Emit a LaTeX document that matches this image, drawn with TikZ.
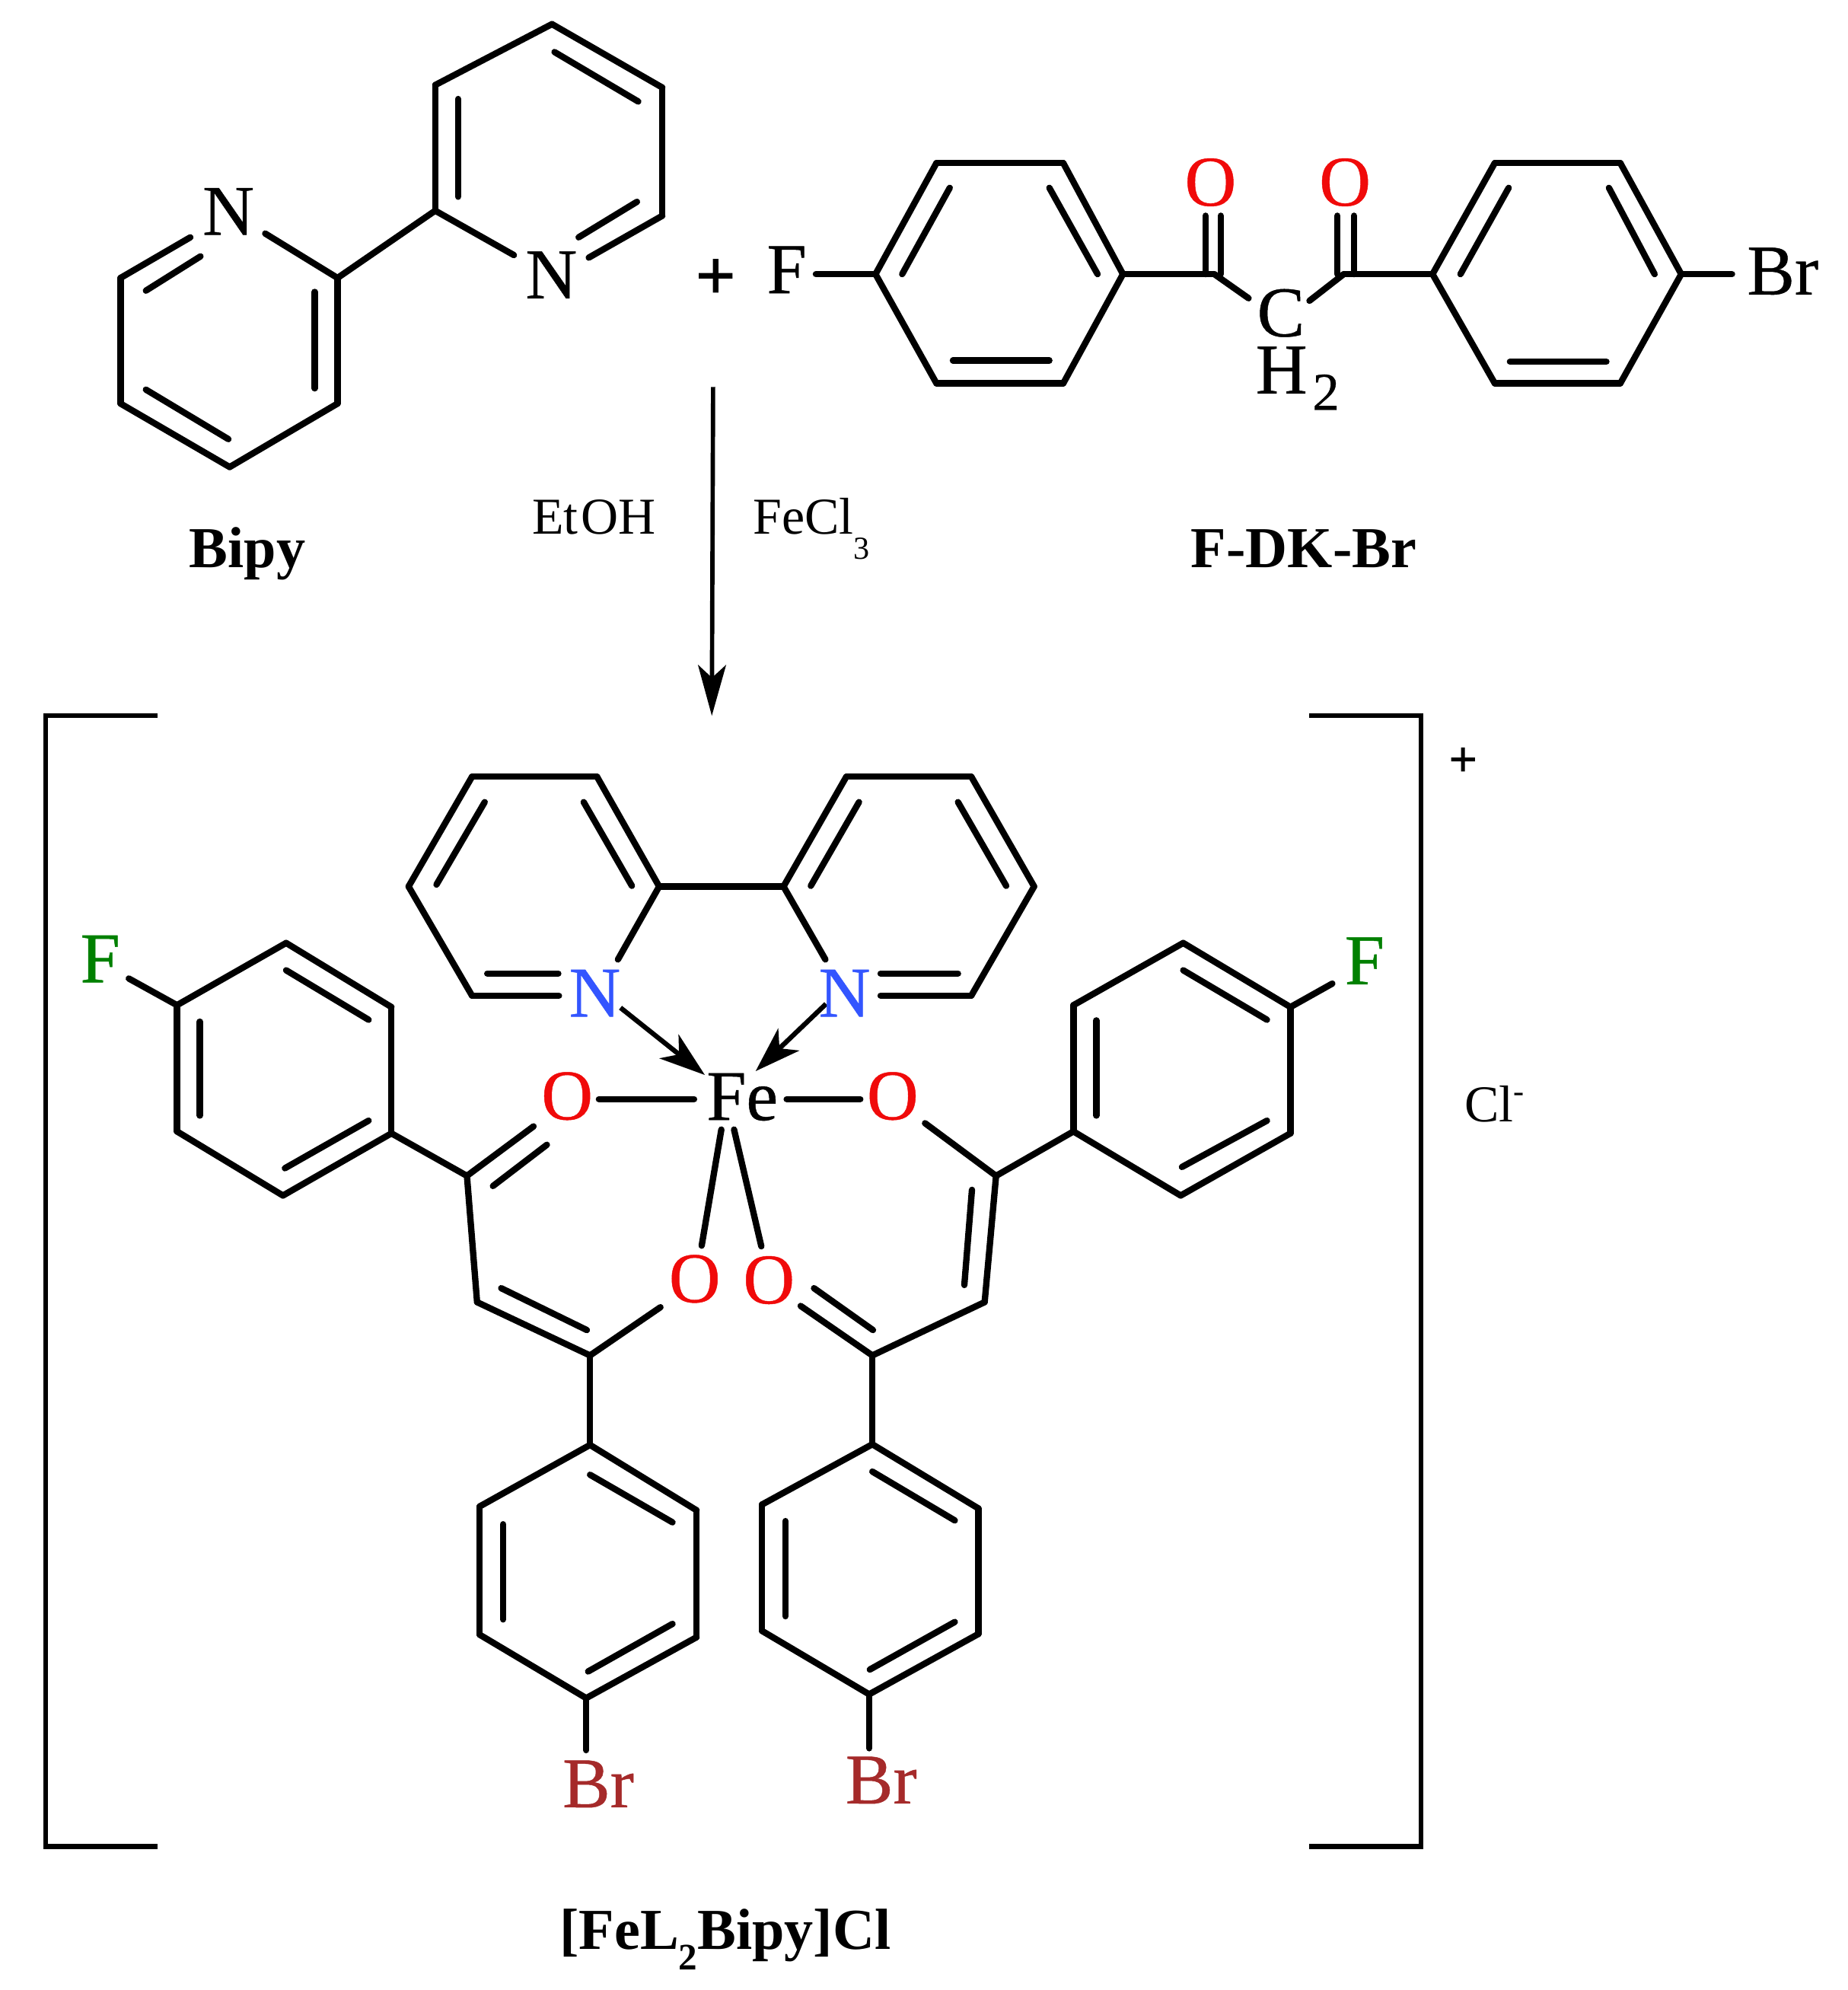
\documentclass[tikz,border=0pt]{standalone}
\usepackage{fontspec}
\setmainfont{Liberation Serif}
\newfontfamily\heavyfont[FakeBold=3]{Liberation Serif}
\newfontfamily\atomfamily[FakeBold=0.5]{Liberation Serif}
\usetikzlibrary{arrows.meta}
\definecolor{oxred}{HTML}{F00A0A}
\definecolor{nblue}{HTML}{3355FF}
\definecolor{fgreen}{HTML}{008000}
\definecolor{brbrown}{HTML}{A52A2A}
\newcommand{\bigfont}{\atomfamily\fontsize{80}{80}\selectfont}
\newcommand{\subfont}{\atomfamily\fontsize{60}{60}\selectfont}
\newcommand{\smallfont}{\fontsize{58}{58}\selectfont}
\newcommand{\lowsub}{\fontsize{36}{36}\selectfont}
\newcommand{\boldfont}{\fontsize{65}{65}\selectfont\bfseries}
\tikzset{
  bond/.style={line width=2.5mm,line cap=round,line join=round,black},
  thinline/.style={line width=1.7mm,black},
  atom/.style={inner sep=0pt,anchor=base,font=\bigfont},
  caption/.style={inner sep=0pt,anchor=base,font=\boldfont},
  note/.style={inner sep=0pt,anchor=base,font=\smallfont},
  head/.style={-{Stealth[length=20mm,width=11mm,inset=5mm]}},
  dative/.style={line width=1.9mm,-{Stealth[length=18mm,width=12mm,inset=5mm]}}
}
\begin{document}
\begin{tikzpicture}[x=0.5mm,y=-0.5mm]
\useasboundingbox (0,0) rectangle (1456,1568);
% all vertices and free bond ends
\foreach \n/\x/\y in {
 % top bipy
 a1/181/368,a2/266/318,a3/266/219,a4/209/184,a5/150/187,a6/95/219,a7/95/318,
 a8/248/230,a9/248/306,a10/115/307,a11/180/346,a12/115/229,a13/158/202,
 b1/343/166,b2/343/67,b3/435/19,b4/522/69,b5/522/170,b6/464/203,b7/405/201,
 b8/361/78,b9/361/155,b10/437/41,b11/503/80,b12/502/159,b13/456/187,
 % F-DK-Br
 c1/690/216,c2/738/128.5,c3/838/128.5,c4/885/216,c5/838/302,c6/738/302,
 c7/711/216,c8/748.5/148,c9/827/148,c10/865/216,c11/751/284,c12/827/284,c13/643/216,
 d1/957/216,d2/984/235,d3/950/170,d4/950/216,d5/962/170,d6/962/216,
 e1/1059/216,e2/1032/237,e3/1054/170,e4/1054/216,e5/1067/170,e6/1067/216,
 f1/1129/216,f2/1178/128.5,f3/1277/128.5,f4/1325/216,f5/1277/302,f6/1178/302,
 f7/1151/216,f8/1189/148,f9/1268/148,f10/1304/216,f11/1190/285,f12/1266/285,f13/1365/216,
 % reaction arrow
 r1/562/305,r2/561/564,
 % brackets
 k1/124/564,k2/36/564,k3/36/1455,k4/124/1455,
 k5/1032/564,k6/1120/564,k7/1120/1455,k8/1032/1455,
 % complex bipy
 g1/322/698.5,g2/372/612,g3/470.5/612,g4/519.5/698.5,g5/487/756,g6/372/784.5,g7/440.5/784.5,
 g8/344/697,g9/382/632,g10/460/632,g11/498/698,g12/384/767,g13/440/767,
 h1/617.5/698.5,h2/667/612,h3/765.5/612,h4/815/698.5,h5/765.5/784.5,h6/694/784.5,h7/650.5/756,
 h8/639/698,h9/677/632,h10/755/632,h11/793/698,h12/694/767,h13/755/767,
 % dative bonds
 t1/489/794,t2/555.5/847,t3/651/791,t4/595.5/844,
 % Fe-O
 u1/472/866,u2/547/866,u3/620/866,u4/678/866,u5/568.5/890,u6/553/981.5,u7/578.5/890,u8/600/982,
 % left ketoenol
 v1/368/926.5,v2/420.5/887.5,v3/388.5/934.5,v4/431/902,v5/376/1026,v6/465/1068,
 v7/395/1015,v8/462.5/1048,v9/520.5/1030,
 % right ketoenol
 w1/785/926.5,w2/729/885,w3/776/1026,w4/766/937.5,w5/760/1012.5,w6/687.5/1068,
 w7/631/1029,w8/688/1048,w9/641.5/1015,
 % left F ring
 p1/139.5/792,p2/225.5/743,p3/308.5/793.5,p4/308.5/893,p5/223/942,p6/139.5/891.5,
 p7/157.5/805,p8/157.5/879,p9/225.5/764.5,p10/290.5/803.5,p11/290.5/883,p12/224.5/920.5,p13/101.5/771,
 % right F ring
 q1/846/792,q2/932.5/743,q3/1017/793.5,q4/1017/893,q5/930.5/942,q6/846/891.5,
 q7/864/804,q8/864/879,q9/932.5/764.5,q10/998.5/803.5,q11/998.5/883,q12/931.5/919.5,q13/1050/775,
 % left Br ring
 m1/465/1138.5,m2/549/1190,m3/549/1290,m4/462/1338,m5/378/1288,m6/378/1187,
 m7/465/1162,m8/530/1199.5,m9/530/1279.5,m10/463.5/1317,m11/396.5/1201,m12/396.5/1276,m13/462/1379,
 % right Br ring
 n1/687.5/1138,n2/771/1188.5,n3/771/1287.5,n4/685/1335,n5/600.5/1285,n6/600.5/1185.5,
 n7/687.5/1159.5,n8/752.5/1198,n9/752.5/1278,n10/685.5/1315.5,n11/619/1198.5,n12/619/1273.5,n13/685/1377.5%
}{\coordinate (\n) at (\x,\y);}
% bonds
\foreach \s/\e in {
 a1/a2,a2/a3,a3/a4,a5/a6,a6/a7,a7/a1,a8/a9,a10/a11,a12/a13,a3/b1,
 b1/b2,b2/b3,b3/b4,b4/b5,b5/b6,b1/b7,b8/b9,b10/b11,b12/b13,
 c1/c2,c2/c3,c3/c4,c4/c5,c5/c6,c6/c1,c7/c8,c9/c10,c11/c12,c13/c1,
 c4/d1,d1/d2,d3/d4,d5/d6,e2/e1,e3/e4,e5/e6,e1/f1,
 f1/f2,f2/f3,f3/f4,f4/f5,f5/f6,f6/f1,f7/f8,f9/f10,f11/f12,f4/f13,
 g1/g2,g2/g3,g3/g4,g4/g5,g1/g6,g6/g7,g8/g9,g10/g11,g12/g13,g4/h1,
 h1/h2,h2/h3,h3/h4,h4/h5,h5/h6,h1/h7,h8/h9,h10/h11,h12/h13,
 u1/u2,u3/u4,u5/u6,u7/u8,
 v1/v2,v3/v4,v1/v5,v5/v6,v7/v8,v6/v9,v6/m1,p4/v1,
 w1/w2,w1/w3,w4/w5,w3/w6,w6/w7,w8/w9,w6/n1,q6/w1,
 p1/p2,p2/p3,p3/p4,p4/p5,p5/p6,p6/p1,p7/p8,p9/p10,p11/p12,p13/p1,
 q1/q2,q2/q3,q3/q4,q4/q5,q5/q6,q6/q1,q7/q8,q9/q10,q11/q12,q13/q3,
 m1/m2,m2/m3,m3/m4,m4/m5,m5/m6,m6/m1,m7/m8,m9/m10,m11/m12,m4/m13,
 n1/n2,n2/n3,n3/n4,n4/n5,n5/n6,n6/n1,n7/n8,n9/n10,n11/n12,n4/n13%
}{\draw[bond] (\s) -- (\e);}
% arrows
\draw[thinline,head] (r1) -- (r2);
\draw[dative] (t1) -- (t2);
\draw[dative] (t3) -- (t4);
% brackets
\draw[thinline,line width=1.9mm] (k1) -- (k2) -- (k3) -- (k4);
\draw[thinline,line width=1.9mm] (k5) -- (k6) -- (k7) -- (k8);
% atom labels, top
\node[atom] (nA) at (180,185) {N};
\node[atom] (nB) at (434.5,235) {N};
\node[atom,font=\heavyfont\fontsize{76}{76}\selectfont] (plus) at (564,235) {+};
\node[atom] (fA) at (620,231) {F};
\node[atom,text=oxred] (oA) at (954,162) {O};
\node[atom,text=oxred] (oB) at (1060,162) {O};
\node[atom] (cC) at (1009.5,265) {C};
\node[atom] (hH) at (1010,310) {H};
\node[atom,font=\subfont] (two) at (1045,323) {2};
\node[atom] (brA) at (1405,232) {Br};
% captions and conditions
\node[caption] (capA) at (195,447) {Bipy};
\node[caption] (capB) at (1027.5,447) {F-DK-Br};
\node[note] (etoh) at (468,421) {Et\kern3pt OH};
\node[note,anchor=base west] (fecl) at (593.5,421) {FeCl\raisebox{-28pt}{\lowsub 3}};
% complex labels
\node[atom,text=nblue] (nC) at (468.8,801) {N};
\node[atom,text=nblue] (nD) at (665.6,801) {N};
\node[atom] (fe) at (585,882.5) {Fe};
\node[atom,text=oxred] (oC) at (447,882) {O};
\node[atom,text=oxred] (oD) at (703.5,882) {O};
\node[atom,text=oxred] (oE) at (547.5,1026) {O};
\node[atom,text=oxred] (oF) at (606,1027) {O};
\node[atom,text=fgreen] (fB) at (79,774) {F};
\node[atom,text=fgreen] (fC) at (1075.5,775.5) {F};
\node[atom,text=brbrown] (brB) at (471.5,1424) {Br};
\node[atom,text=brbrown] (brC) at (694.5,1421) {Br};
\node[atom,font=\heavyfont\fontsize{54}{54}\selectfont] (chg) at (1153,611) {+};
\node[note,anchor=base west] (cl) at (1154,884) {Cl\raisebox{22pt}{\fontsize{36}{36}\selectfont -}};
\node[caption,anchor=base west] (capC) at (441,1536) {[FeL\raisebox{-23pt}{\fontsize{42}{42}\selectfont 2}Bipy]Cl};
\end{tikzpicture}
\end{document}
